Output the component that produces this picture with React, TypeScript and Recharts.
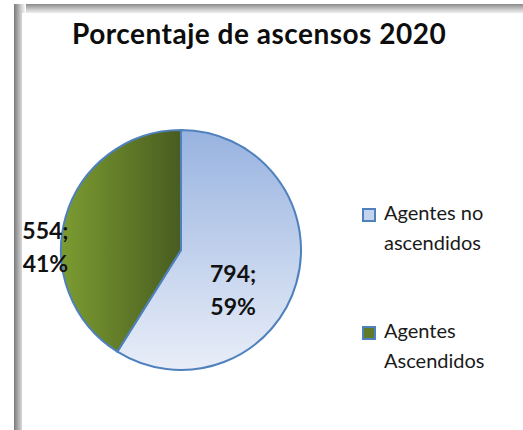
import React from "react";
import { PieChart, Pie, Cell, Legend } from "recharts";

const categories = ["Agentes no ascendidos", "Agentes Ascendidos"];
const legendLines = [["Agentes no", "ascendidos"], ["Agentes", "Ascendidos"]];
const values = [794, 554];
const percents = ["59%", "41%"];
const title = "Porcentaje de ascensos 2020";

const data = categories.map((name, i) => ({ name, value: values[i] }));
const fills = ["url(#gBlue)", "url(#gGreen)"];
const swatch = ["#c5d4ee", "#5f7a28"];

const FONT = "Lato, 'Open Sans', sans-serif";

const RAD = Math.PI / 180;
const labelRadius = [0.547, 1.13];
const labelAngleShift = [-21.4, 14.9];

const renderLabel = (props: any) => {
  const { cx, cy, midAngle, outerRadius, index } = props;
  const ang = midAngle + labelAngleShift[index];
  const r = outerRadius * labelRadius[index];
  const x = cx + r * Math.cos(-ang * RAD);
  const y = cy + r * Math.sin(-ang * RAD);
  return (
    <text
      x={x}
      y={y}
      textAnchor="middle"
      fontFamily={FONT}
      fontWeight={700}
      fontSize={23}
      fill="#111"
    >
      <tspan x={x} dy={-8}>{values[index] + ";"}</tspan>
      <tspan x={x} dy={33}>{percents[index]}</tspan>
    </text>
  );
};

const LegendContent = () => (
  <div style={{ fontFamily: FONT, fontSize: 20, color: "#1a1a1a", lineHeight: "30px" }}>
    {legendLines.map((lines, i) => (
      <div key={i} style={{ display: "flex", alignItems: "flex-start", marginBottom: i === 0 ? 58 : 0 }}>
        <div
          style={{
            width: 10,
            height: 10,
            marginTop: 11,
            marginRight: 8,
            border: "2px solid #4f81bd",
            background: swatch[i],
            flexShrink: 0,
          }}
        />
        <div>
          {lines.map((l, j) => (
            <div key={j}>{l}</div>
          ))}
        </div>
      </div>
    ))}
  </div>
);

export default function App() {
  return (
    <div style={{ position: "absolute", left: 0, top: 0, width: 523, height: 430, background: "#fff", overflow: "hidden" }}>
      <div
        style={{
          position: "absolute",
          left: 14,
          top: 4,
          width: 509,
          height: 11,
          background: "linear-gradient(to bottom, #8a8a8a, #d8d8d8 60%, #ffffff)",
        }}
      />
      <div
        style={{
          position: "absolute",
          left: 14,
          top: 4,
          width: 12,
          height: 426,
          background: "linear-gradient(to right, #7a7a7a, #cfcfcf 60%, #ffffff)",
        }}
      />
      <div
        style={{
          position: "absolute",
          left: 22,
          top: 13,
          width: 501,
          height: 417,
          background: "#fff",
        }}
      />
      <div
        style={{
          position: "absolute",
          left: 72,
          top: 16,
          whiteSpace: "nowrap",
          fontFamily: FONT,
          fontWeight: 700,
          fontSize: 28,
          letterSpacing: 0.5,
          lineHeight: "34px",
          color: "#0d0d0d",
        }}
      >
        {title}
      </div>
      <div style={{ position: "absolute", left: 0, top: 0 }}>
        <PieChart width={523} height={430} margin={{ top: 0, right: 0, bottom: 0, left: 0 }}>
          <defs>
            <linearGradient id="gBlue" x1="0" y1="0" x2="0" y2="1">
              <stop offset="0%" stopColor="#98b3e0" />
              <stop offset="100%" stopColor="#e9eef8" />
            </linearGradient>
            <linearGradient id="gGreen" x1="0" y1="0" x2="1" y2="0">
              <stop offset="0%" stopColor="#7c9c31" />
              <stop offset="100%" stopColor="#485c20" />
            </linearGradient>
          </defs>
          <Pie
            data={data}
            dataKey="value"
            nameKey="name"
            cx={181}
            cy={250}
            outerRadius={120}
            startAngle={90}
            endAngle={-270}
            stroke="#4f81bd"
            strokeWidth={2}
            label={renderLabel}
            labelLine={false}
            isAnimationActive={false}
          >
            {data.map((d, i) => (
              <Cell key={d.name} fill={fills[i]} />
            ))}
          </Pie>
          <Legend
            content={<LegendContent />}
            layout="vertical"
            wrapperStyle={{ position: "absolute", left: 362, top: 197, width: 160 }}
          />
        </PieChart>
      </div>
    </div>
  );
}
